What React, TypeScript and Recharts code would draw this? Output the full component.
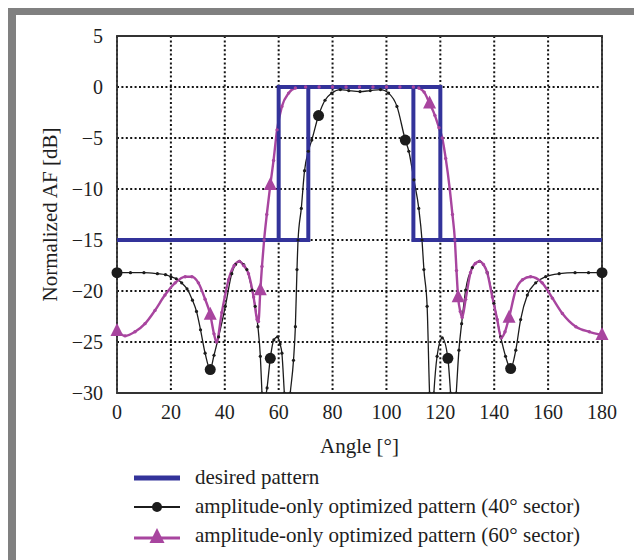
import * as React from "react";
import {
  LineChart,
  Line,
  XAxis,
  YAxis,
  CartesianGrid,
  ReferenceArea,
  Legend,
} from "recharts";

// axis ticks
const angleTicks = [0, 20, 40, 60, 80, 100, 120, 140, 160, 180];
const afTicks = [-30, -25, -20, -15, -10, -5, 0, 5];

// desired (mask) patterns, 60 deg and 40 deg sectors
const desired60Angle = [0, 60, 60, 120, 120, 180];
const desired60Af = [-15, -15, 0, 0, -15, -15];
const desired40Angle = [0, 71, 71, 110, 110, 180];
const desired40Af = [-15, -15, 0, 0, -15, -15];

// amplitude-only optimized pattern, 40 deg sector
const angle40 = [
  0, 5, 10, 15, 18, 20, 22, 24, 26, 28,
  29.5, 31, 32.7, 34.6, 36, 37.7, 40.2, 42.6, 44, 45.4,
  47, 48.2, 50.1, 51.3, 52.3, 53.2, 53.8, 54.5, 55.2, 55.7,
  56.9, 58.2, 59.6, 60.5, 61.2, 62.1, 63, 64.3, 65.5, 66.2,
  66.8, 67.2, 68.4, 69.6, 71, 72.3, 74.8, 77.2, 79.7, 82.9,
  86, 90.2, 94, 97.8, 100.8, 103.9, 107, 108.3, 110.2, 112,
  113.2, 113.9, 115.1, 116, 116.8, 117.6, 118.8, 120.7, 122.8, 123.8,
  124.8, 125.9, 126.9, 127.9, 129.4, 131.9, 134.6, 137.4, 139.9, 142.4,
  144.2, 146.1, 148, 149.8, 152.3, 155.4, 159.1, 164.1, 170, 175,
  180,
];
const af40 = [
  -18.2, -18.2, -18.2, -18.3, -18.4, -18.6, -18.8, -19.2, -19.8, -20.9,
  -22.0, -23.8, -26.1, -27.7, -26.3, -24.5, -21.5, -18.3, -17.4, -17.1,
  -17.4, -17.9, -19.9, -21.5, -23.5, -26.4, -30, -34, -30.5, -29.5,
  -26.6, -24.8, -24.5, -25.2, -26.1, -30, -34, -30, -26.8, -23.5,
  -17.9, -15, -11.9, -8.2, -6.3, -5.2, -2.8, -1.3, -0.6, -0.25,
  -0.35, -0.45, -0.35, -0.25, -0.6, -1.9, -5.2, -6.3, -9.1, -11.9,
  -15, -17.9, -21.5, -30, -34, -30, -26.4, -24.6, -26.6, -30,
  -34, -30, -25.8, -23.2, -19.9, -17.7, -17.1, -18.2, -21.2, -24.5,
  -26.4, -27.6, -25.8, -22.8, -20.4, -19.2, -18.6, -18.3, -18.2, -18.2,
  -18.2,
];
const markers40 = [0, 34.6, 56.9, 74.8, 107, 122.8, 146.1, 180];

// amplitude-only optimized pattern, 60 deg sector
const angle60 = [
  0, 3, 6.7, 10.4, 14.1, 17.8, 21.6, 25.3, 27.8, 30.2,
  32.7, 34.6, 36, 36.9, 38.9, 41.4, 43.5, 45.4, 47, 48.8,
  50.7, 52, 52.5, 53.2, 53.8, 54.6, 55.6, 56.9, 58.1, 59.4,
  61.2, 63.7, 66.2, 70, 75, 80, 85, 90, 95, 100,
  105, 110, 112, 114, 116, 118, 119.5, 120.7, 122, 123.5,
  124.5, 125.4, 126, 126.6, 127.4, 128.1, 129.4, 131.2, 133, 134.6,
  136, 137.4, 139.3, 141.1, 142.6, 144, 145.5, 148, 150.5, 153.5,
  157.8, 161.6, 165.3, 170.3, 175.3, 180,
];
const af60 = [
  -23.9, -24.4, -24.0, -23.2, -21.9, -20.4, -19.2, -18.6, -18.6, -19.2,
  -20.8, -22.3, -24.2, -25, -22.1, -18.9, -17.5, -17.1, -17.5, -18.3,
  -20.6, -22.8, -23, -19.9, -17.6, -15, -12.5, -9.6, -7.2, -4.2,
  -1.9, -0.6, -0.1, 0, 0, 0, 0, 0, 0, 0,
  0, 0, -0.1, -0.5, -1.6, -2.8, -4, -5, -7, -10,
  -12.5, -15, -18, -20.6, -22, -22.6, -20.8, -18.2, -17.3, -17.1,
  -17.4, -18.2, -20.6, -22.8, -24.6, -24, -22.6, -19.9, -18.9, -18.6,
  -19.2, -20.7, -22.2, -23.5, -24, -24.3,
];
const markers60 = [0, 34.6, 53.2, 56.9, 116, 126.6, 145.5, 180];

const seriesNames = [
  "desired pattern",
  "amplitude-only optimized pattern (40° sector)",
  "amplitude-only optimized pattern (60° sector)",
];

const BLUE = "#33339a";
const BLACK = "#1c1c1c";
const MAGENTA = "#a8459f";
const TEXT = "#1e1e1e";
const FONT = '"Liberation Serif", "Times New Roman", serif';

const zip = (xs: number[], ys: number[]) =>
  xs.map((x, i) => ({ angle: x, af: ys[i] }));

const desired60 = zip(desired60Angle, desired60Af);
const desired40 = zip(desired40Angle, desired40Af);
const pattern40 = zip(angle40, af40);
const pattern60 = zip(angle60, af60);

const triPoints = (cx: number, cy: number, s: number) =>
  `${cx},${cy - s * 0.6} ${cx - s / 2},${cy + s * 0.4} ${cx + s / 2},${cy + s * 0.4}`;

const blackDot = (props: any) => {
  const { cx, cy, payload, index } = props;
  if (cx == null || cy == null) return <g key={`b-${index}`} />;
  const big = markers40.includes(payload.angle);
  return <circle key={`b-${index}`} cx={cx} cy={cy} r={big ? 5.5 : 1.6} fill={BLACK} />;
};

const magentaDot = (props: any) => {
  const { cx, cy, payload, index } = props;
  if (cx == null || cy == null) return <g key={`m-${index}`} />;
  if (markers60.includes(payload.angle)) {
    return <polygon key={`m-${index}`} points={triPoints(cx, cy, 13)} fill={MAGENTA} />;
  }
  return <circle key={`m-${index}`} cx={cx} cy={cy} r={1.7} fill={MAGENTA} />;
};

const minus = (v: number) => (v < 0 ? `\u2212${Math.abs(v)}` : String(v));

const YLabel = (props: any) => {
  const vb = props.viewBox || { x: 0, y: 0, width: 0, height: 0 };
  const x = vb.x + 41;
  const y = vb.y + vb.height / 2;
  return (
    <text
      x={x}
      y={y}
      transform={`rotate(-90 ${x} ${y})`}
      textAnchor="middle"
      fill={TEXT}
      fontFamily={FONT}
      fontSize={21}
    >
      Normalized AF [dB]
    </text>
  );
};

const LegendBox = () => (
  <div style={{ fontFamily: FONT, fontSize: 21, color: TEXT }}>
    {seriesNames.map((name, i) => (
      <div key={name} style={{ display: "flex", alignItems: "center", height: 29 }}>
        <svg width={46} height={22}>
          {i === 0 && <line x1={0} y1={11} x2={46} y2={11} stroke={BLUE} strokeWidth={5} />}
          {i === 1 && (
            <>
              <line x1={0} y1={11} x2={46} y2={11} stroke={BLACK} strokeWidth={2} />
              <circle cx={23} cy={11} r={5} fill={BLACK} />
            </>
          )}
          {i === 2 && (
            <>
              <line x1={0} y1={13} x2={46} y2={13} stroke={MAGENTA} strokeWidth={3} />
              <polygon points={triPoints(23, 12, 15)} fill={MAGENTA} />
            </>
          )}
        </svg>
        <span style={{ marginLeft: 15, whiteSpace: "nowrap" }}>{name}</span>
      </div>
    ))}
  </div>
);

export default function App() {
  return (
    <div
      style={{
        marginTop: -1,
        width: 621,
        height: 560,
        border: "8px solid #808080",
        background: "#fff",
      }}
    >
      <style>{"body{overflow:hidden}"}</style>
      <LineChart
        width={621}
        height={545}
        margin={{ top: 21, right: 35, left: 0, bottom: 107 }}
      >
        <CartesianGrid
          stroke="#151515"
          strokeDasharray="2 2.4"
          strokeWidth={2}
        />
        <XAxis
          dataKey="angle"
          type="number"
          domain={[0, 180]}
          ticks={angleTicks}
          interval={0}
          axisLine={false}
          tickLine={false}
          tickMargin={6}
          height={60}
          tick={{ fill: TEXT, fontFamily: FONT, fontSize: 20 }}
          label={{
            value: "Angle [°]",
            position: "insideBottom",
            offset: 0,
            fill: TEXT,
            fontFamily: FONT,
            fontSize: 21,
          }}
        />
        <YAxis
          type="number"
          domain={[-30, 5]}
          ticks={afTicks}
          interval={0}
          allowDataOverflow
          axisLine={false}
          tickLine={false}
          tickMargin={8}
          width={101}
          tickFormatter={minus}
          tick={{ fill: TEXT, fontFamily: FONT, fontSize: 20 }}
          label={<YLabel />}
        />
        <ReferenceArea
          x1={0}
          x2={180}
          y1={-30}
          y2={5}
          fill="none"
          stroke="#333"
          strokeWidth={1.8}
        />
        <Line
          data={pattern40}
          type="monotone"
          dataKey="af"
          name={seriesNames[1]}
          stroke={BLACK}
          strokeWidth={1.3}
          dot={blackDot}
          activeDot={false}
          isAnimationActive={false}
        />
        <Line
          data={pattern60}
          type="monotone"
          dataKey="af"
          name={seriesNames[2]}
          stroke={MAGENTA}
          strokeWidth={2.4}
          dot={magentaDot}
          activeDot={false}
          isAnimationActive={false}
        />
        <Line
          data={desired40}
          dataKey="af"
          name={seriesNames[0]}
          stroke={BLUE}
          strokeWidth={4}
          dot={false}
          activeDot={false}
          isAnimationActive={false}
        />
        <Line
          data={desired60}
          dataKey="af"
          name="desired pattern (60° sector)"
          legendType="none"
          stroke={BLUE}
          strokeWidth={4}
          dot={false}
          activeDot={false}
          isAnimationActive={false}
        />
        <Legend
          layout="vertical"
          align="center"
          verticalAlign="middle"
          content={<LegendBox />}
          wrapperStyle={{ left: 118, top: 448, width: 480 }}
        />
      </LineChart>
    </div>
  );
}
